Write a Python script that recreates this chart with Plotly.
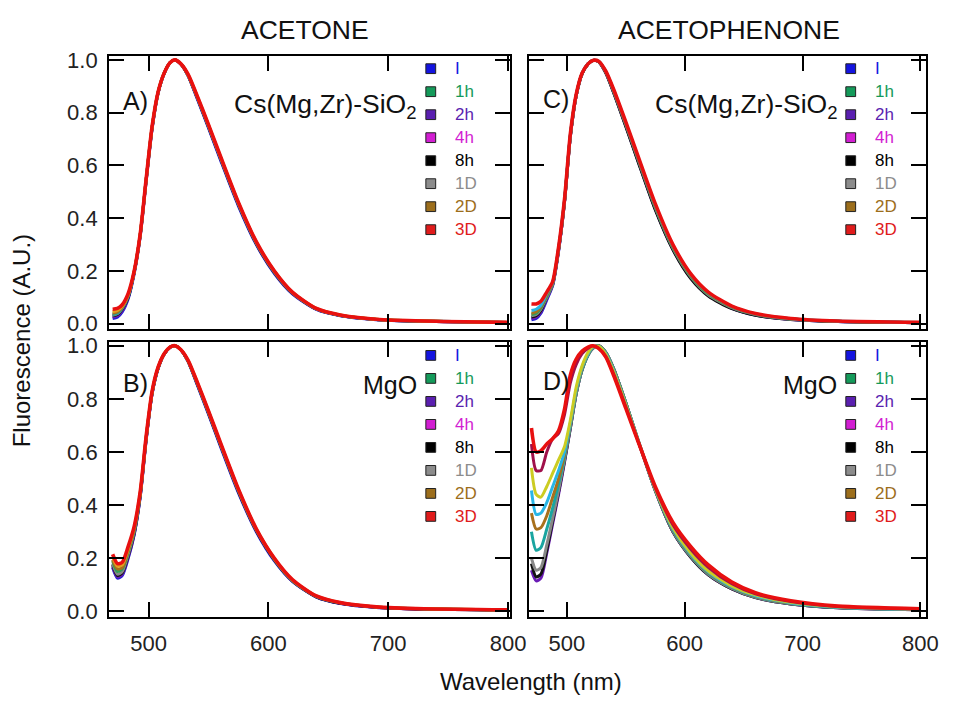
import plotly.graph_objects as go

W, H = 964, 702

# ---------------- data ----------------
WL = [470, 474, 478, 483, 488, 493, 498, 503, 508, 513, 518, 522, 527, 533, 540,
      550, 560, 575, 590, 605, 620, 640, 660, 690, 730, 800]

# Panel A: acetone on Cs(Mg,Zr)-SiO2
A_BLUE = [0.020, 0.025, 0.045, 0.095, 0.19, 0.33, 0.54, 0.74, 0.875, 0.948, 0.99, 1.00, 0.984, 0.940, 0.860, 0.742, 0.621, 0.446, 0.299, 0.190, 0.113, 0.054, 0.030, 0.015, 0.009, 0.004]
A_PURPLE = [0.025, 0.030, 0.050, 0.100, 0.195, 0.335, 0.545, 0.745, 0.877, 0.949, 0.99, 1.00, 0.984, 0.941, 0.863, 0.746, 0.625, 0.450, 0.302, 0.193, 0.115, 0.055, 0.031, 0.016, 0.009, 0.004]
A_BLACK = [0.030, 0.035, 0.055, 0.100, 0.195, 0.335, 0.545, 0.745, 0.877, 0.949, 0.99, 1.00, 0.985, 0.941, 0.864, 0.747, 0.627, 0.452, 0.303, 0.194, 0.116, 0.056, 0.031, 0.016, 0.009, 0.005]
A_GREY = [0.032, 0.038, 0.058, 0.105, 0.197, 0.337, 0.547, 0.747, 0.878, 0.95, 0.99, 1.00, 0.985, 0.942, 0.865, 0.749, 0.629, 0.454, 0.305, 0.196, 0.117, 0.056, 0.032, 0.016, 0.010, 0.005]
A_TEAL = [0.035, 0.040, 0.060, 0.105, 0.197, 0.337, 0.547, 0.747, 0.878, 0.95, 0.99, 1.00, 0.985, 0.942, 0.866, 0.750, 0.630, 0.455, 0.306, 0.197, 0.118, 0.057, 0.032, 0.016, 0.010, 0.005]
A_BROWN = [0.040, 0.045, 0.063, 0.108, 0.198, 0.338, 0.548, 0.748, 0.879, 0.95, 0.99, 1.00, 0.985, 0.943, 0.868, 0.752, 0.632, 0.457, 0.308, 0.198, 0.119, 0.057, 0.032, 0.017, 0.010, 0.005]
A_ORANGE = [0.045, 0.050, 0.066, 0.110, 0.199, 0.339, 0.549, 0.749, 0.879, 0.95, 0.99, 1.00, 0.985, 0.944, 0.869, 0.753, 0.633, 0.458, 0.309, 0.199, 0.119, 0.058, 0.033, 0.017, 0.010, 0.005]
A_RED = [0.055, 0.058, 0.072, 0.115, 0.20, 0.34, 0.55, 0.75, 0.88, 0.95, 0.99, 1.00, 0.985, 0.945, 0.870, 0.755, 0.635, 0.460, 0.310, 0.200, 0.120, 0.058, 0.033, 0.017, 0.010, 0.005]

# Panel B: acetone on MgO
B_BLUE = [0.165, 0.125, 0.135, 0.20, 0.29, 0.43, 0.645, 0.82, 0.915, 0.968, 0.994, 1.0, 0.984, 0.940, 0.860, 0.742, 0.621, 0.446, 0.299, 0.190, 0.113, 0.054, 0.030, 0.015, 0.009, 0.005]
B_PURPLE = [0.17, 0.13, 0.14, 0.205, 0.29, 0.432, 0.647, 0.821, 0.915, 0.968, 0.994, 1.0, 0.984, 0.941, 0.863, 0.746, 0.625, 0.450, 0.302, 0.193, 0.114, 0.055, 0.031, 0.016, 0.009, 0.005]
B_BLACK = [0.175, 0.135, 0.145, 0.21, 0.295, 0.435, 0.65, 0.823, 0.916, 0.968, 0.994, 1.0, 0.984, 0.941, 0.864, 0.747, 0.627, 0.452, 0.303, 0.194, 0.115, 0.055, 0.031, 0.016, 0.009, 0.005]
B_GREY = [0.18, 0.14, 0.15, 0.215, 0.30, 0.438, 0.652, 0.825, 0.917, 0.969, 0.994, 1.0, 0.985, 0.942, 0.865, 0.749, 0.629, 0.454, 0.305, 0.196, 0.116, 0.056, 0.032, 0.016, 0.010, 0.005]
B_GREEN = [0.19, 0.15, 0.16, 0.225, 0.305, 0.441, 0.654, 0.826, 0.918, 0.969, 0.995, 1.0, 0.985, 0.942, 0.866, 0.750, 0.630, 0.455, 0.306, 0.197, 0.117, 0.057, 0.032, 0.017, 0.010, 0.005]
B_BROWN = [0.195, 0.16, 0.165, 0.23, 0.31, 0.444, 0.656, 0.827, 0.919, 0.969, 0.995, 1.0, 0.985, 0.943, 0.868, 0.752, 0.632, 0.457, 0.308, 0.198, 0.118, 0.057, 0.033, 0.017, 0.010, 0.006]
B_ORANGE = [0.205, 0.17, 0.175, 0.235, 0.315, 0.447, 0.658, 0.828, 0.919, 0.97, 0.995, 1.0, 0.985, 0.944, 0.869, 0.753, 0.633, 0.458, 0.309, 0.199, 0.119, 0.058, 0.033, 0.017, 0.010, 0.006]
B_RED = [0.215, 0.18, 0.185, 0.245, 0.32, 0.45, 0.66, 0.83, 0.92, 0.97, 0.995, 1.0, 0.985, 0.945, 0.870, 0.755, 0.635, 0.460, 0.310, 0.200, 0.120, 0.058, 0.033, 0.017, 0.010, 0.006]

# Panel C: acetophenone on Cs(Mg,Zr)-SiO2
C_BLUE = [0.015, 0.02, 0.04, 0.09, 0.145, 0.275, 0.46, 0.71, 0.865, 0.948, 0.985, 0.998, 0.993, 0.953, 0.875, 0.752, 0.625, 0.437, 0.284, 0.176, 0.108, 0.059, 0.033, 0.017, 0.008, 0.004]
C_PURPLE = [0.02, 0.025, 0.045, 0.095, 0.147, 0.277, 0.46, 0.71, 0.865, 0.948, 0.985, 0.998, 0.993, 0.952, 0.874, 0.750, 0.622, 0.434, 0.282, 0.174, 0.107, 0.058, 0.033, 0.016, 0.008, 0.004]
C_BLACK = [0.025, 0.03, 0.05, 0.10, 0.15, 0.28, 0.46, 0.71, 0.865, 0.948, 0.985, 0.998, 0.993, 0.951, 0.872, 0.748, 0.620, 0.432, 0.280, 0.172, 0.105, 0.057, 0.032, 0.016, 0.008, 0.004]
C_GREY = [0.03, 0.035, 0.055, 0.10, 0.15, 0.28, 0.462, 0.712, 0.866, 0.948, 0.985, 0.998, 0.994, 0.954, 0.877, 0.755, 0.628, 0.441, 0.287, 0.179, 0.110, 0.061, 0.035, 0.017, 0.009, 0.004]
C_GREEN = [0.035, 0.04, 0.06, 0.105, 0.152, 0.282, 0.464, 0.714, 0.867, 0.949, 0.985, 0.998, 0.994, 0.955, 0.879, 0.758, 0.631, 0.444, 0.290, 0.182, 0.113, 0.063, 0.036, 0.018, 0.009, 0.004]
C_BROWN = [0.04, 0.045, 0.065, 0.11, 0.155, 0.285, 0.466, 0.716, 0.868, 0.949, 0.985, 0.998, 0.994, 0.956, 0.881, 0.760, 0.634, 0.448, 0.294, 0.185, 0.116, 0.065, 0.037, 0.019, 0.009, 0.005]
C_CYAN = [0.05, 0.055, 0.07, 0.115, 0.157, 0.287, 0.468, 0.718, 0.869, 0.95, 0.985, 0.998, 0.995, 0.957, 0.883, 0.762, 0.637, 0.451, 0.297, 0.188, 0.118, 0.066, 0.038, 0.019, 0.010, 0.005]
C_RED = [0.075, 0.075, 0.085, 0.12, 0.16, 0.29, 0.47, 0.72, 0.87, 0.95, 0.985, 0.998, 0.995, 0.958, 0.885, 0.765, 0.640, 0.455, 0.300, 0.190, 0.120, 0.067, 0.039, 0.020, 0.010, 0.005]

# Panel D: acetophenone on MgO
D_PURPLE = [0.155, 0.115, 0.125, 0.22, 0.33, 0.44, 0.56, 0.69, 0.82, 0.91, 0.965, 0.99, 1.0, 0.975, 0.91, 0.785, 0.65, 0.455, 0.30, 0.205, 0.138, 0.085, 0.052, 0.028, 0.014, 0.006]
D_BLACK = [0.18, 0.13, 0.14, 0.23, 0.34, 0.45, 0.565, 0.69, 0.82, 0.91, 0.965, 0.99, 1.0, 0.975, 0.91, 0.785, 0.65, 0.455, 0.30, 0.205, 0.138, 0.085, 0.052, 0.028, 0.014, 0.006]
D_GREY = [0.20, 0.155, 0.165, 0.25, 0.35, 0.455, 0.57, 0.695, 0.82, 0.91, 0.965, 0.99, 1.0, 0.975, 0.91, 0.785, 0.65, 0.457, 0.302, 0.207, 0.140, 0.087, 0.053, 0.029, 0.015, 0.006]
D_TEAL = [0.30, 0.23, 0.24, 0.31, 0.39, 0.48, 0.58, 0.70, 0.825, 0.91, 0.965, 0.992, 1.0, 0.975, 0.91, 0.786, 0.651, 0.458, 0.305, 0.210, 0.143, 0.089, 0.055, 0.030, 0.015, 0.007]
D_BROWN = [0.37, 0.31, 0.315, 0.36, 0.43, 0.50, 0.59, 0.705, 0.83, 0.915, 0.968, 0.993, 1.0, 0.973, 0.907, 0.783, 0.650, 0.459, 0.308, 0.213, 0.146, 0.091, 0.057, 0.031, 0.016, 0.007]
D_CYAN = [0.455, 0.365, 0.37, 0.41, 0.47, 0.53, 0.60, 0.71, 0.835, 0.92, 0.97, 0.994, 0.998, 0.971, 0.904, 0.780, 0.649, 0.460, 0.311, 0.216, 0.149, 0.093, 0.059, 0.032, 0.016, 0.007]
D_YELLOW = [0.54, 0.44, 0.43, 0.47, 0.52, 0.57, 0.62, 0.72, 0.845, 0.925, 0.975, 0.996, 0.997, 0.968, 0.899, 0.777, 0.648, 0.462, 0.316, 0.221, 0.153, 0.096, 0.062, 0.034, 0.017, 0.008]
D_MAROON = [0.63, 0.53, 0.53, 0.60, 0.65, 0.67, 0.74, 0.86, 0.93, 0.97, 0.99, 1.0, 0.99, 0.960, 0.890, 0.770, 0.646, 0.466, 0.326, 0.235, 0.166, 0.104, 0.066, 0.037, 0.018, 0.009]
D_RED = [0.69, 0.60, 0.605, 0.63, 0.65, 0.68, 0.76, 0.89, 0.95, 0.98, 0.995, 1.0, 0.99, 0.958, 0.885, 0.765, 0.645, 0.470, 0.335, 0.245, 0.175, 0.110, 0.070, 0.040, 0.020, 0.010]

LEG_LABELS = ["I", "1h", "2h", "4h", "8h", "1D", "2D", "3D"]
LEG_COLORS = ["#1414e0", "#149a5a", "#5a1fb0", "#d21ed2", "#000000", "#8c8c8c", "#9c6e1c", "#e01b1b"]

X_TICKS = [500, 600, 700, 800]
Y_TICKS = [0.0, 0.2, 0.4, 0.6, 0.8, 1.0]

COL = {
    "blue": "#1f1fd6", "purple": "#6a1bb5", "black": "#111111", "grey": "#888888",
    "teal": "#1aa5a0", "green": "#2e9e5a", "brown": "#a8701c", "orange": "#e0a020",
    "cyan": "#29b6e6", "yellow": "#cccc22", "maroon": "#a0104a", "red": "#e81010",
}

PANELS = [
    ("x", "y", [(A_BLUE, "blue"), (A_PURPLE, "purple"), (A_BLACK, "black"), (A_GREY, "grey"),
                (A_TEAL, "teal"), (A_BROWN, "brown"), (A_ORANGE, "orange"), (A_RED, "red")]),
    ("x3", "y3", [(B_BLUE, "blue"), (B_PURPLE, "purple"), (B_BLACK, "black"), (B_GREY, "grey"),
                  (B_GREEN, "green"), (B_BROWN, "brown"), (B_ORANGE, "orange"), (B_RED, "red")]),
    ("x2", "y2", [(C_BLUE, "blue"), (C_PURPLE, "purple"), (C_BLACK, "black"), (C_GREY, "grey"),
                  (C_GREEN, "green"), (C_BROWN, "brown"), (C_CYAN, "cyan"), (C_RED, "red")]),
    ("x4", "y4", [(D_PURPLE, "purple"), (D_BLACK, "black"), (D_GREY, "grey"), (D_TEAL, "teal"),
                  (D_BROWN, "brown"), (D_CYAN, "cyan"), (D_YELLOW, "yellow"), (D_MAROON, "maroon"),
                  (D_RED, "red")]),
]

fig = go.Figure()
for xa, ya, series in PANELS:
    for vals, c in series:
        fig.add_trace(go.Scatter(
            x=WL, y=vals, xaxis=xa, yaxis=ya, mode="lines",
            line=dict(color=COL[c], width=3.6 if c == "red" else 3, shape="spline", smoothing=0.7),
            showlegend=False, hoverinfo="skip"))


def px(x):
    return x / W


def py(y):
    return 1 - y / H


FONT = "Liberation Sans, Arial, sans-serif"

XD_L = [px(111), px(519)]
XD_R = [px(538), px(943)]
YD_T = [py(328), py(49)]
YD_B = [py(622), py(341)]

common = dict(showline=True, linewidth=2, linecolor="black", mirror="ticks",
              ticks="inside", ticklen=15, tickwidth=2, tickcolor="black",
              showgrid=False, zeroline=False,
              tickfont=dict(family=FONT, size=22, color="#222"))


def xax(domain, rng, anchor, labels):
    return dict(domain=domain, range=rng, anchor=anchor, tickvals=X_TICKS,
                showticklabels=labels, ticklabelstandoff=6, **common)


def yax(domain, anchor, labels):
    return dict(domain=domain, range=[-0.02, 1.015], anchor=anchor, tickvals=Y_TICKS,
                tickformat=".1f", showticklabels=labels, ticklabelstandoff=5, **common)


fig.update_layout(
    width=W, height=H, margin=dict(l=0, r=0, t=0, b=0),
    paper_bgcolor="white", plot_bgcolor="white",
    xaxis=xax(XD_L, [467, 801.5], "y", False),
    yaxis=yax(YD_T, "x", True),
    xaxis2=xax(XD_R, [467.5, 805], "y2", False),
    yaxis2=yax(YD_T, "x2", False),
    xaxis3=xax(XD_L, [467, 801.5], "y3", True),
    yaxis3=yax(YD_B, "x3", True),
    xaxis4=xax(XD_R, [467.5, 805], "y4", True),
    yaxis4=yax(YD_B, "x4", False),
)

ann = []
shapes = []


def text(t, x, y, size, xanchor="center", color="#111", angle=0):
    ann.append(dict(text=t, x=px(x), y=py(y), xref="paper", yref="paper",
                    xanchor=xanchor, yanchor="middle", showarrow=False, textangle=angle,
                    font=dict(family=FONT, size=size, color=color)))


text("ACETONE", 310, 22, 26.5)
text("ACETOPHENONE", 742, 22, 26.5)
text("Fluorescence (A.U.)", 22, 340, 24, angle=-90)
text("Wavelength (nm)", 541, 688, 24)

for lab, xl, yl in [("A)", 123, 95), ("B)", 123, 383), ("C)", 551, 93), ("D)", 551, 381)]:
    text(lab, xl, yl, 25, xanchor="left")

text("Cs(Mg,Zr)-SiO<sub>2</sub>", 427, 100, 26.5, xanchor="right")
text("Cs(Mg,Zr)-SiO<sub>2</sub>", 855, 100, 26.5, xanchor="right")
text("MgO", 427, 385, 25, xanchor="right")
text("MgO", 854, 385, 25, xanchor="right")

for mx, tx, y0 in [(438.5, 461, 62), (438.5, 461, 355), (866, 889, 62), (866, 889, 355)]:
    for i, (lab, c) in enumerate(zip(LEG_LABELS, LEG_COLORS)):
        yy = y0 + i * 23.5
        shapes.append(dict(type="rect", xref="paper", yref="paper",
                           x0=px(mx - 5), x1=px(mx + 5), y0=py(yy + 5), y1=py(yy - 5),
                           fillcolor=c, line=dict(color="#222", width=1)))
        text(lab, tx, yy, 17, xanchor="left", color=c)

fig.update_layout(annotations=ann, shapes=shapes)
fig.write_html("out.html")
